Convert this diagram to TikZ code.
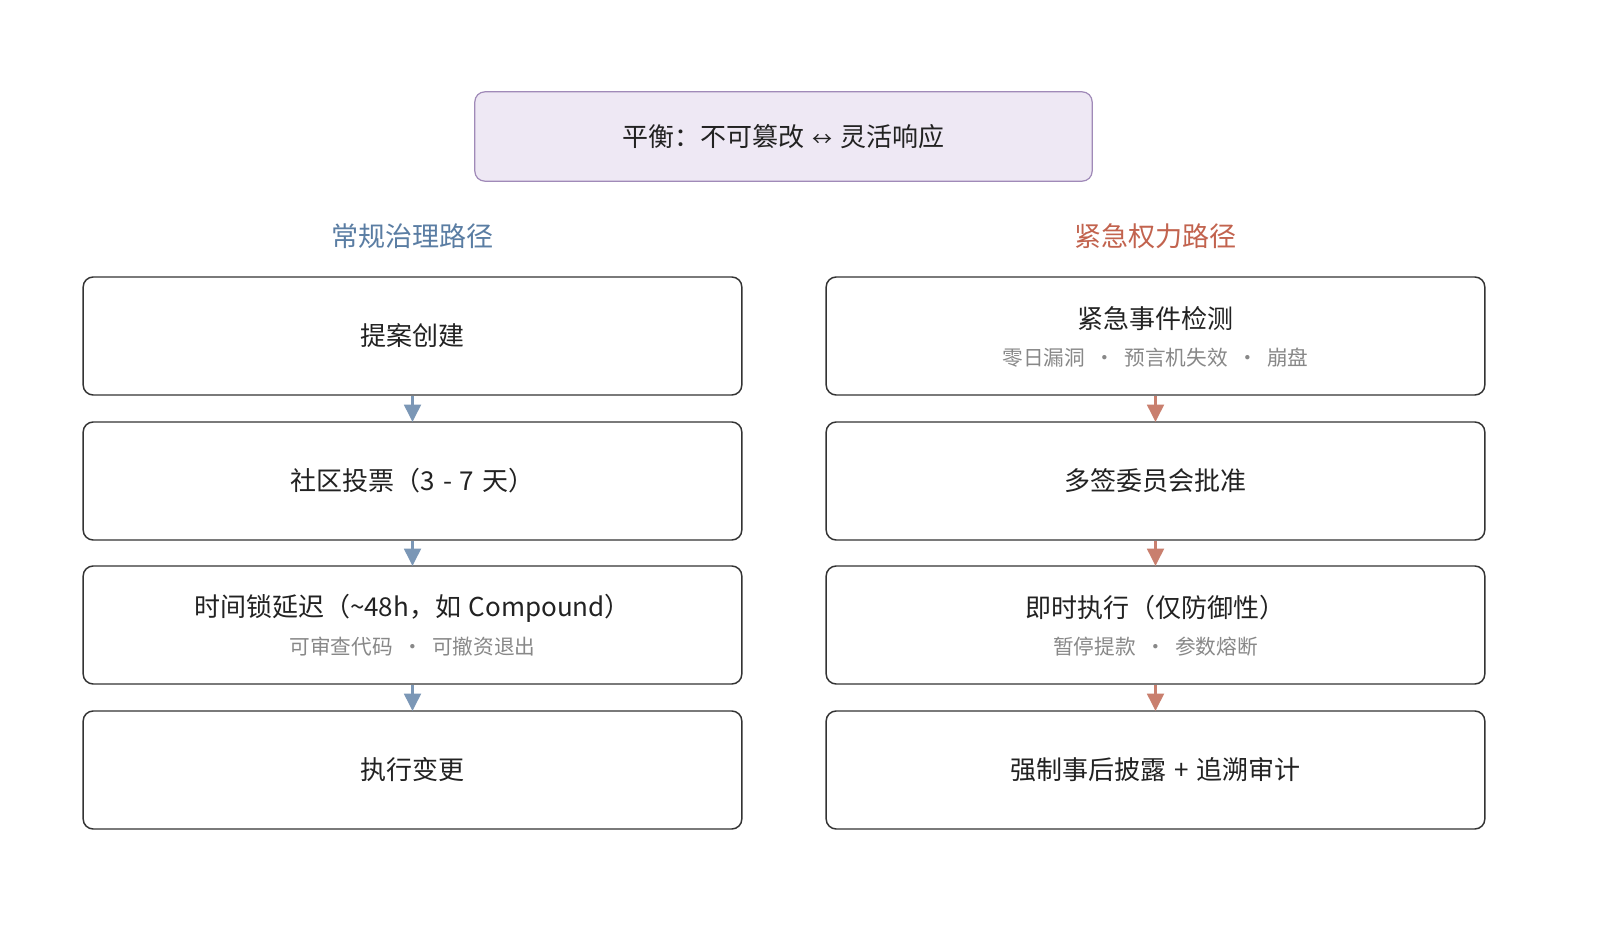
\documentclass[tikz,border=0pt]{standalone}
\usepackage{fontspec}
\setmainfont{Noto Sans CJK SC}
\usetikzlibrary{arrows.meta}
\definecolor{txt}{HTML}{222222}
\definecolor{subtxt}{HTML}{888888}
\definecolor{bluehd}{HTML}{5A7DA3}
\definecolor{redhd}{HTML}{C2634E}
\definecolor{bluear}{HTML}{7B97B6}
\definecolor{redar}{HTML}{C97F6E}
\definecolor{topfill}{HTML}{EEE8F4}
\definecolor{topdraw}{HTML}{A08AB8}
\definecolor{boxdraw}{HTML}{333333}
\newcommand{\sepdot}{\hspace{0.45em}·\hspace{0.45em}}
\newcommand{\wsp}{\hspace{0.3em}}
\begin{document}
\begin{tikzpicture}[x=0.75pt,y=-0.75pt,
  stepbox/.style={draw=boxdraw,line width=1.1pt,rounded corners=7.5pt,fill=white,
    minimum width=494pt,minimum height=88.5pt,inner sep=0pt},
  topbox/.style={draw=topdraw,line width=0.9pt,rounded corners=7.5pt,fill=topfill,
    minimum width=463pt,minimum height=67pt,inner sep=0pt},
  maintext/.style={text=txt,font=\fontsize{19.5pt}{22pt}\selectfont,inner sep=0pt},
  subtext/.style={text=subtxt,font=\fontsize{15.5pt}{18pt}\selectfont,inner sep=0pt},
  heading/.style={font=\fontsize{20.3pt}{23pt}\selectfont,inner sep=0pt},
  bluearrow/.style={draw=bluear,line width=2.2pt,-{Triangle[length=13pt,width=12.5pt]},shorten >=-0.5pt},
  redarrow/.style={draw=redar,line width=2.2pt,-{Triangle[length=13pt,width=12.5pt]},shorten >=-0.5pt}
]
\useasboundingbox (0,0) rectangle (1600,952);
\fill[white] (0,0) rectangle (1600,952);

\node[topbox] (top) at (783.5,136.5) {};
\node[maintext] (toptxt) at (783.5,136.5) {平衡：不可篡改\wsp{\fontsize{15pt}{18pt}\selectfont ↔}\wsp 灵活响应};

\node[heading,text=bluehd] (lhead) at (412.5,236) {常规治理路径};
\node[heading,text=redhd] (rhead) at (1155.5,236) {紧急权力路径};

% left column
\node[stepbox] (l1) at (412.5,336) {};
\node[maintext] at (l1.center) {提案创建};
\node[stepbox] (l2) at (412.5,481) {};
\node[maintext] at (l2.center) {社区投票（3\wsp-\wsp7\wsp 天）};
\node[stepbox] (l3) at (412.5,625) {};
\node[maintext] (l3a) at (412.5,608) {时间锁延迟（\char"7E 48h，如\wsp Compound）};
\node[subtext] (l3b) at (412.5,647) {可审查代码\sepdot 可撤资退出};
\node[stepbox] (l4) at (412.5,770) {};
\node[maintext] at (l4.center) {执行变更};

% right column
\node[stepbox] (r1) at (1155.5,336) {};
\node[maintext] (r1a) at (1155.5,319) {紧急事件检测};
\node[subtext] (r1b) at (1155.5,358) {零日漏洞\sepdot 预言机失效\sepdot 崩盘};
\node[stepbox] (r2) at (1155.5,481) {};
\node[maintext] at (r2.center) {多签委员会批准};
\node[stepbox] (r3) at (1155.5,625) {};
\node[maintext] (r3a) at (1155.5,608) {即时执行（仅防御性）};
\node[subtext] (r3b) at (1155.5,647) {暂停提款\sepdot 参数熔断};
\node[stepbox] (r4) at (1155.5,770) {};
\node[maintext] at (r4.center) {强制事后披露\wsp+\wsp 追溯审计};

\draw[bluearrow] (l1.south) -- (l2.north);
\draw[bluearrow] (l2.south) -- (l3.north);
\draw[bluearrow] (l3.south) -- (l4.north);
\draw[redarrow] (r1.south) -- (r2.north);
\draw[redarrow] (r2.south) -- (r3.north);
\draw[redarrow] (r3.south) -- (r4.north);
\end{tikzpicture}
\end{document}
